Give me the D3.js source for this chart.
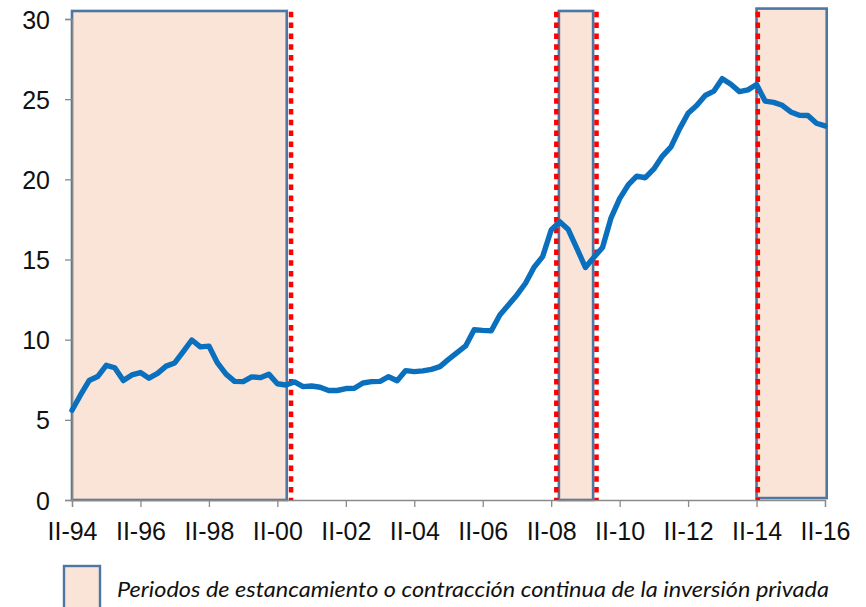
<!DOCTYPE html>
<html>
<head>
<meta charset="utf-8">
<script src="https://cdn.jsdelivr.net/npm/d3@7"></script>
<style>
  html, body { margin: 0; padding: 0; background: #ffffff; }
  svg { display: block; }
</style>
</head>
<body>
<svg id="chart" width="866" height="607"></svg>
<script>
// Quarterly series, from II-94 (index 0) to II-16 (index 88)
const values = [
  5.6, 6.55, 7.45, 7.7, 8.4, 8.25, 7.45, 7.8, 7.95, 7.6,
  7.9, 8.35, 8.55, 9.25, 9.98, 9.55, 9.6, 8.55, 7.85, 7.4,
  7.38, 7.68, 7.63, 7.85, 7.25, 7.17, 7.36, 7.07, 7.11, 7.03,
  6.83, 6.83, 6.95, 6.97, 7.3, 7.38, 7.4, 7.69, 7.44, 8.07,
  8.01, 8.05, 8.15, 8.32, 8.77, 9.19, 9.61, 10.62, 10.58, 10.56,
  11.54, 12.16, 12.79, 13.52, 14.52, 15.18, 16.84, 17.36, 16.87, 15.7,
  14.5, 15.14, 15.75, 17.6, 18.8, 19.65, 20.2, 20.1, 20.65, 21.45,
  22.02, 23.15, 24.12, 24.6, 25.23, 25.5, 26.28, 25.93, 25.47, 25.58,
  25.92, 24.88, 24.8, 24.62, 24.2, 24.0, 23.98, 23.5, 23.33
];
// Axis tick labels, one every 8 quarters
const tickLabels = ["II-94","II-96","II-98","II-00","II-02","II-04","II-06","II-08","II-10","II-12","II-14","II-16"];
const quartersPerTick = 8;
const yTicks = [0, 5, 10, 15, 20, 25, 30];
// Shaded periods (in quarter index units) and their top value
const periodStart = [0, 56.9, 80.0];
const periodEnd   = [25.1, 60.9, 88.2];
const periodTop   = [30.5, 30.5, 30.65];
const periodBottom = [0, 0, 0.12];
// Red dotted period markers (quarter index units)
const markers = [25.6, 56.6, 61.3, 80.15];
const markerTop = 30.45;
const legendText = "Periodos de estancamiento o contracción continua de la inversión privada";

const svg = d3.select("#chart");
const x = d3.scaleLinear().domain([0, 88]).range([72, 825]);
const y = d3.scaleLinear().domain([0, 30]).range([500, 19]);

const FONT = "'Liberation Sans', Arial, sans-serif";

// Shaded periods
svg.append("g").selectAll("rect")
  .data(periodStart.map((s, i) => ({s, e: periodEnd[i], t: periodTop[i], b: periodBottom[i]})))
  .join("rect")
  .attr("x", d => x(d.s))
  .attr("y", d => y(d.t))
  .attr("width", d => x(d.e) - x(d.s))
  .attr("height", d => y(d.b) - y(d.t))
  .attr("fill", "#f9e4d7")
  .attr("stroke", "#4c77a3")
  .attr("stroke-width", 2.6);

// Y axis
const yAxis = d3.axisLeft(y).tickValues(yTicks).tickSize(7).tickPadding(15).tickFormat(d3.format("d"));
const gy = svg.append("g").attr("transform", `translate(${x(0)},0)`).call(yAxis);
gy.select(".domain").attr("stroke", "#8a8a8a").attr("stroke-width", 1.3);
gy.selectAll(".tick line").attr("stroke", "#8a8a8a").attr("stroke-width", 1.3);
gy.selectAll(".tick text").attr("font-family", FONT).attr("font-size", 25).attr("fill", "#111").attr("dy", "0.36em");

// X axis
const xAxis = d3.axisBottom(x)
  .tickValues(tickLabels.map((_, i) => i * quartersPerTick))
  .tickSize(7).tickPadding(15)
  .tickFormat((d, i) => tickLabels[i]);
const gx = svg.append("g").attr("transform", `translate(0,${y(0)})`).call(xAxis);
gx.select(".domain").attr("stroke", "#8a8a8a").attr("stroke-width", 1.3);
gx.selectAll(".tick line").attr("stroke", "#8a8a8a").attr("stroke-width", 1.3);
gx.selectAll(".tick text").attr("font-family", FONT).attr("font-size", 25).attr("fill", "#111");

// Red dotted markers
svg.append("g").selectAll("line")
  .data(markers)
  .join("line")
  .attr("x1", d => x(d)).attr("x2", d => x(d))
  .attr("y1", y(markerTop)).attr("y2", y(0))
  .attr("stroke", "#ff0000")
  .attr("stroke-width", 4.5)
  .attr("stroke-dasharray", "5.5 5.3");

// Main line
const line = d3.line().x((d, i) => x(i)).y(d => y(d)).curve(d3.curveLinear);
svg.append("path")
  .datum(values)
  .attr("d", line)
  .attr("fill", "none")
  .attr("stroke", "#0a70bd")
  .attr("stroke-width", 5.4)
  .attr("stroke-linejoin", "round")
  .attr("stroke-linecap", "round");

// Legend
svg.append("rect")
  .attr("x", 64).attr("y", 566).attr("width", 36).attr("height", 48)
  .attr("fill", "#f9e4d7").attr("stroke", "#4c77a3").attr("stroke-width", 2.4);
svg.append("text")
  .attr("x", 117).attr("y", 597)
  .attr("font-family", "Lato, 'Open Sans', sans-serif")
  .attr("font-style", "italic")
  .attr("font-size", 20.5)
  .attr("fill", "#111")
  .attr("textLength", 712)
  .attr("lengthAdjust", "spacingAndGlyphs")
  .text(legendText);
</script>
</body>
</html>
